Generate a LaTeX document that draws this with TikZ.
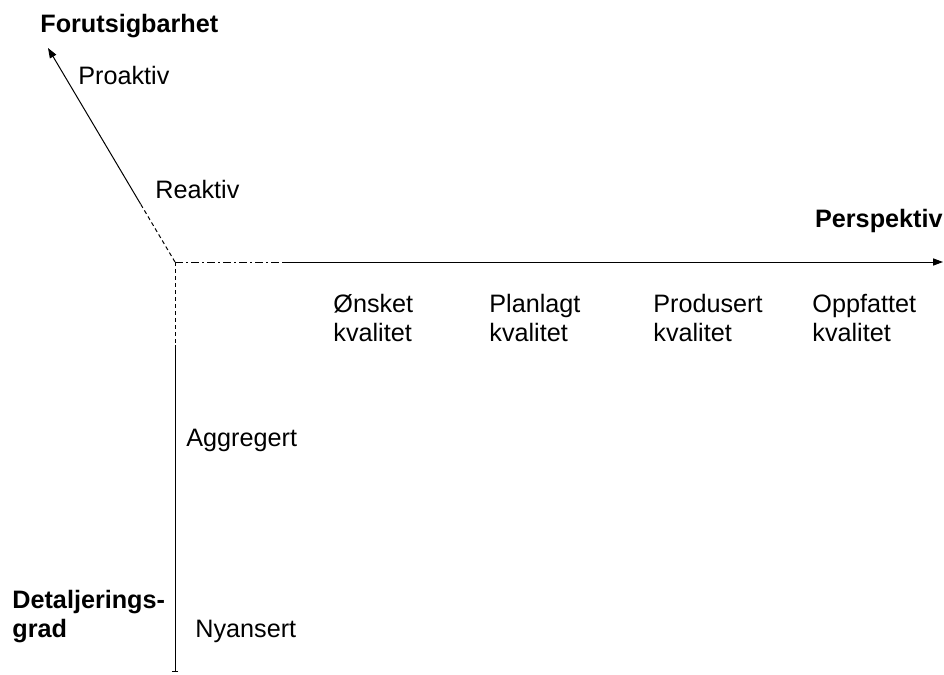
\documentclass[tikz,border=0pt]{standalone}
\usepackage{fontspec}
\setmainfont{Liberation Sans}
\usepackage{tikz}
\usetikzlibrary{arrows.meta,positioning,calc}
\tikzset{
  lbl/.style={anchor=base west,inner sep=0pt,font=\fontsize{12.6}{14.3}\selectfont,align=left},
  ttl/.style={lbl,font=\fontsize{12.6}{14.3}\selectfont\bfseries},
  ax/.style={line width=0.5pt,color=black},
  arr/.style={ax,-{Triangle[length=5pt,width=3.6pt]}},
}
\begin{document}
\begin{tikzpicture}[x=0.5pt,y=-0.5pt]
\useasboundingbox (0,0) rectangle (944,675);
\coordinate (o) at (175,262);
\coordinate (up) at (48,48);
\coordinate (right) at (943,262);
\coordinate (down) at (175,672);
\coordinate (upmid) at ($(o)!0.27!(up)$);
\coordinate (rightmid) at (283,262);
\coordinate (downmid) at (175,345);
% axes
\draw[ax,dash pattern=on 2pt off 1.5pt] (o)--(upmid);
\draw[arr] (upmid)--(up);
\draw[ax,dash pattern=on 4pt off 1.5pt on 1pt off 1.5pt] (o)--(rightmid);
\draw[arr] (rightmid)--(right);
\draw[ax,dash pattern=on 2pt off 1.5pt] (o)--(downmid);
\draw[ax,-{Bar[width=3pt]}] (downmid)--(down);
% axis titles
\node[ttl] (fors) at (40,32) {Forutsigbarhet};
\node[ttl,anchor=base east] (persp) at (943,227) {Perspektiv};
\node[ttl] (detal) at (12,637) {Detaljerings-\\grad};
% labels
\node[lbl] (proak) at (78,84) {Proaktiv};
\node[lbl] (reak) at (155,198) {Reaktiv};
\node[lbl] (onsk) at (333,341) {Ønsket\\kvalitet};
\node[lbl] (plan) at (489,341) {Planlagt\\kvalitet};
\node[lbl] (prod) at (653,341) {Produsert\\kvalitet};
\node[lbl] (oppf) at (812,341) {Oppfattet\\kvalitet};
\node[lbl] (aggr) at (186,446) {Aggregert};
\node[lbl] (nyan) at (195,637) {Nyansert};
\end{tikzpicture}
\end{document}
